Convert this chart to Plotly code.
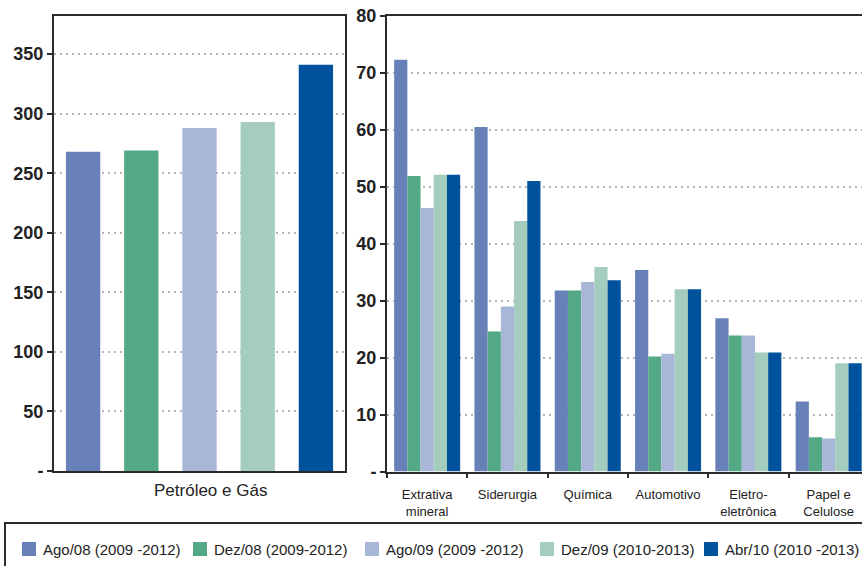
import plotly.graph_objects as go

# Series (forecast rounds) and their colours
series = ["Ago/08 (2009 -2012)", "Dez/08 (2009-2012)", "Ago/09 (2009 -2012)",
          "Dez/09 (2010-2013)", "Abr/10 (2010 -2013)"]
colors = ["#6780B8", "#53A886", "#A8B6D8", "#A5CDBD", "#01529C"]

# Petróleo e Gás (left panel)
petroleo_label = "Petróleo e Gás"
petroleo = [268, 269, 288, 293, 341]

# Other sectors (right panel)
sectors = ["Extrativa<br>mineral", "Siderurgia", "Química", "Automotivo",
           "Eletro-<br>eletrônica", "Papel e<br>Celulose"]
ago08 = [72.3, 60.5, 31.8, 35.4, 26.9, 12.3]
dez08 = [51.9, 24.6, 31.8, 20.2, 23.9, 6.0]
ago09 = [46.3, 29.0, 33.3, 20.7, 23.9, 5.8]
dez09 = [52.1, 44.0, 35.9, 32.0, 20.9, 19.0]
abr10 = [52.1, 51.0, 33.6, 32.0, 20.9, 19.0]
sector_values = [ago08, dez08, ago09, dez09, abr10]

left_ticks = [0, 50, 100, 150, 200, 250, 300, 350]
right_ticks = [0, 10, 20, 30, 40, 50, 60, 70, 80]

W, H = 862, 566
AX = "#2b2b2b"
GRID = "#b5b5b5"
FONT = "Arial"

def px_x(v):
    return v / W

def px_y(v):
    return (H - v) / H

fig = go.Figure()

# left panel: one bar per series
for i, name in enumerate(series):
    fig.add_trace(go.Bar(
        x=[i], y=[petroleo[i]], name=name, marker_color=colors[i],
        marker_line_width=0, width=0.59, offset=-0.295,
        xaxis="x", yaxis="y", showlegend=False, legendgroup=name,
    ))

# right panel: grouped bars by sector
bw = 0.1644
for i, name in enumerate(series):
    fig.add_trace(go.Bar(
        x=sectors, y=sector_values[i], name=name, marker_color=colors[i],
        marker_line_width=0, width=bw, offset=-2.5 * bw + i * bw,
        xaxis="x2", yaxis="y2", showlegend=False, legendgroup=name,
    ))

tickfont_bold = dict(family=FONT, size=18, color="#222222", weight="bold")

fig.update_layout(
    width=W, height=H,
    margin=dict(l=0, r=0, t=0, b=0, pad=0, autoexpand=False),
    paper_bgcolor="white", plot_bgcolor="white",
    barmode="overlay",
    showlegend=False,
    font=dict(family=FONT, color="#222222"),
    xaxis=dict(
        domain=[px_x(54), px_x(345)], range=[-0.5, 4.5],
        showticklabels=False, ticks="", showgrid=False, zeroline=False,
        showline=True, linecolor=AX, linewidth=2, mirror=True,
        anchor="y", automargin=False,
    ),
    yaxis=dict(
        domain=[px_y(471), px_y(16)], range=[0, 382],
        tickvals=left_ticks,
        ticktext=["-" if t == 0 else str(t) for t in left_ticks],
        tickfont=tickfont_bold,
        ticks="outside", ticklen=5, tickwidth=2, tickcolor=AX,
        showgrid=True, gridcolor=GRID, gridwidth=1.5, griddash="2px,4px",
        zeroline=False,
        showline=True, linecolor=AX, linewidth=2, mirror=True,
        anchor="x", automargin=False,
    ),
    xaxis2=dict(
        domain=[px_x(387), 1.0], range=[-0.5, 5.415],
        type="category",
        tickfont=dict(family=FONT, size=13, color="#222222"),
        ticks="outside", tickson="boundaries", ticklen=4, tickwidth=2, tickcolor=AX,
        ticklabelstandoff=10,
        showgrid=False, zeroline=False,
        showline=True, linecolor=AX, linewidth=2, mirror=True,
        anchor="y2", automargin=False,
    ),
    yaxis2=dict(
        domain=[px_y(471.5), px_y(16)], range=[0, 80],
        tickvals=right_ticks,
        ticktext=["-" if t == 0 else str(t) for t in right_ticks],
        tickfont=tickfont_bold,
        ticks="outside", ticklen=5, tickwidth=2, tickcolor=AX,
        showgrid=True, gridcolor=GRID, gridwidth=1.5, griddash="2px,4px",
        zeroline=False,
        showline=True, linecolor=AX, linewidth=2, mirror=False,
        anchor="x2", automargin=False,
    ),
)

annotations = [
    dict(text=petroleo_label, x=px_x(210), y=px_y(491), xref="paper", yref="paper",
         xanchor="center", yanchor="middle", showarrow=False,
         font=dict(family=FONT, size=17, color="#222222")),
]
shapes = [
    # legend frame
    dict(type="rect", xref="paper", yref="paper",
         x0=px_x(5), x1=px_x(880), y0=px_y(580), y1=px_y(523),
         line=dict(color=AX, width=2), fillcolor="rgba(0,0,0,0)"),
]

# legend entries
legend_x = [22, 193, 365, 540, 704]
for i, name in enumerate(series):
    x0 = legend_x[i]
    shapes.append(dict(type="rect", xref="paper", yref="paper",
                       x0=px_x(x0), x1=px_x(x0 + 14), y0=px_y(556), y1=px_y(542),
                       line=dict(width=0), fillcolor=colors[i]))
    annotations.append(dict(text=name, x=px_x(x0 + 19), y=px_y(549),
                            xref="paper", yref="paper", xanchor="left", yanchor="middle",
                            showarrow=False,
                            font=dict(family=FONT, size=15, color="#222222")))

fig.update_layout(annotations=annotations, shapes=shapes)

fig.write_html("out.html")
